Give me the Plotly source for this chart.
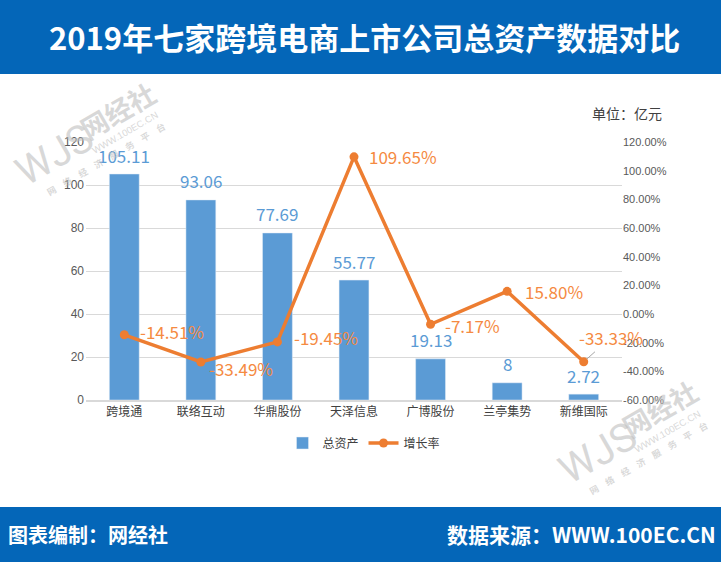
import plotly.graph_objects as go

categories = ["跨境通", "联络互动", "华鼎股份", "天泽信息", "广博股份", "兰亭集势", "新维国际"]
total_assets = [105.11, 93.06, 77.69, 55.77, 19.13, 8, 2.72]
asset_labels = ["105.11", "93.06", "77.69", "55.77", "19.13", "8", "2.72"]
growth_rate = [-14.51, -33.49, -19.45, 109.65, -7.17, 15.80, -33.33]
growth_labels = ["-14.51%", "-33.49%", "-19.45%", "109.65%", "-7.17%", "15.80%", "-33.33%"]
left_ticks = [0, 20, 40, 60, 80, 100, 120]
right_ticks = [-60, -40, -20, 0, 20, 40, 60, 80, 100, 120]
right_labels = ["-60.00%", "-40.00%", "-20.00%", "0.00%", "20.00%", "40.00%",
                "60.00%", "80.00%", "100.00%", "120.00%"]

W, H = 721, 562
BLUE = "#0466B8"
BAR = "#5B9BD5"
ORANGE = "#ED7D31"
LABEL_ORANGE = "#F58A42"
GRID = "#D9D9D9"
TICK = "#595959"
CJK = "Noto Sans CJK SC"
def px(x): return x / W
def py(y): return 1 - y / H

fig = go.Figure()
fig.add_bar(x=categories, y=total_assets, name="总资产", marker_color=BAR, width=0.39, yaxis="y")
fig.add_scatter(x=categories, y=growth_rate, name="增长率", mode="lines+markers", yaxis="y2",
                line=dict(color=ORANGE, width=3.5), marker=dict(size=9, color=ORANGE), cliponaxis=False)

anns = [
    dict(text="2019年七家跨境电商上市公司总资产数据对比", x=px(364), y=py(36), size=31, color="white", bold=True),
    dict(text="图表编制：网经社", x=px(88), y=py(534), size=20, color="white", bold=True),
    dict(text="数据来源：WWW.100EC.CN", x=px(581), y=py(534), size=21, color="white", bold=True),
    dict(text="单位：亿元", x=px(627), y=py(113), size=14, color="#404040", bold=False),
]
annotations = []
for a in anns:
    t = f"<b>{a['text']}</b>" if a["bold"] else a["text"]
    annotations.append(dict(text=t, x=a["x"], y=a["y"], xref="paper", yref="paper", showarrow=False,
                            xanchor="center", yanchor="middle",
                            font=dict(size=a["size"], color=a["color"], family=CJK)))

# bar value labels
for c, v, t in zip(categories, total_assets, asset_labels):
    annotations.append(dict(text=t, x=c, y=v, xref="x", yref="y", showarrow=False, yanchor="middle",
                            yshift=19, font=dict(size=17, color=BAR, family=CJK)))

# growth labels, with their offsets from the marker in pixels
label_offsets = [(14, 3), (6, -6), (15, 4), (13, 0), (12, -1), (16, 0)]
for c, v, t, (sx, sy) in zip(categories, growth_rate, growth_labels, label_offsets):
    annotations.append(dict(text=t, x=c, y=v, xref="x", yref="y2", showarrow=False, xanchor="left",
                            yanchor="middle", xshift=sx, yshift=sy,
                            font=dict(size=17, color=LABEL_ORANGE, family=CJK)))

# leader line and label for the last growth point
annotations.append(dict(text=growth_labels[6], x=categories[6], y=growth_rate[6], xref="x", yref="y2",
                        ax=27, ay=-24, axref="pixel", ayref="pixel", showarrow=True, arrowhead=0,
                        arrowwidth=1, arrowcolor="#A6A6A6", standoff=4,
                        font=dict(size=17, color=LABEL_ORANGE, family=CJK)))

# watermarks
sp = "\u2003"
for dx, dy in [(0, 0), (542, 298)]:
    for text, cx, cy, size, fam, bold in [
        ("WJS", 55, 155, 40, "Roboto", False),
        ("网经社", 117, 110, 27, CJK, True),
        ("WWW.100EC.CN", 125, 133, 9.5, "Liberation Sans", False),
        (sp.join("网络经济服务平台"), 106, 160, 9, CJK, True),
    ]:
        t = f"<b>{text}</b>" if bold else text
        annotations.append(dict(text=t, x=px(cx + dx), y=py(cy + dy), xref="paper", yref="paper",
                                showarrow=False, textangle=-30, xanchor="center", yanchor="middle",
                                font=dict(size=size, color="rgba(190,190,190,0.6)", family=fam)))

shapes = [
    dict(type="rect", xref="paper", yref="paper", x0=0, x1=1, y0=py(74), y1=1, fillcolor=BLUE, line_width=0, layer="below"),
    dict(type="rect", xref="paper", yref="paper", x0=0, x1=1, y0=0, y1=py(507), fillcolor=BLUE, line_width=0, layer="below"),
]

fig.update_layout(
    width=W, height=H, margin=dict(l=0, r=0, t=0, b=0), autosize=False,
    paper_bgcolor="white", plot_bgcolor="rgba(0,0,0,0)", shapes=shapes, annotations=annotations,
    font=dict(family=CJK, color=TICK), bargap=0.6, hovermode=False,
    xaxis=dict(domain=[px(86), px(622)], range=[-0.5, 6.5], automargin=False, showgrid=False, showline=True,
               linecolor=GRID, linewidth=1.5, ticks="", tickfont=dict(size=12, color="#404040", family=CJK),
               anchor="y"),
    yaxis=dict(domain=[py(400), py(142)], automargin=False, range=[0, 120], tickvals=left_ticks,
               gridcolor=GRID, gridwidth=1, zeroline=False, showline=False, ticks="",
               tickfont=dict(size=12, color=TICK, family="Liberation Sans"), ticklabelstandoff=1),
    yaxis2=dict(domain=[py(400), py(142)], automargin=False, range=[-60, 120], overlaying="y", side="right",
                anchor="x", tickvals=right_ticks, ticktext=right_labels, showgrid=False, zeroline=False,
                ticks="", tickfont=dict(size=11, color=TICK, family="Liberation Sans")),
    legend=dict(orientation="h", x=px(364), xanchor="center", y=py(443), yanchor="middle",
                font=dict(size=12, color="#404040", family=CJK), bgcolor="rgba(0,0,0,0)"),
)
fig.write_html("out.html", config=dict(displayModeBar=False),
               post_script="document.body.style.margin='0';")
